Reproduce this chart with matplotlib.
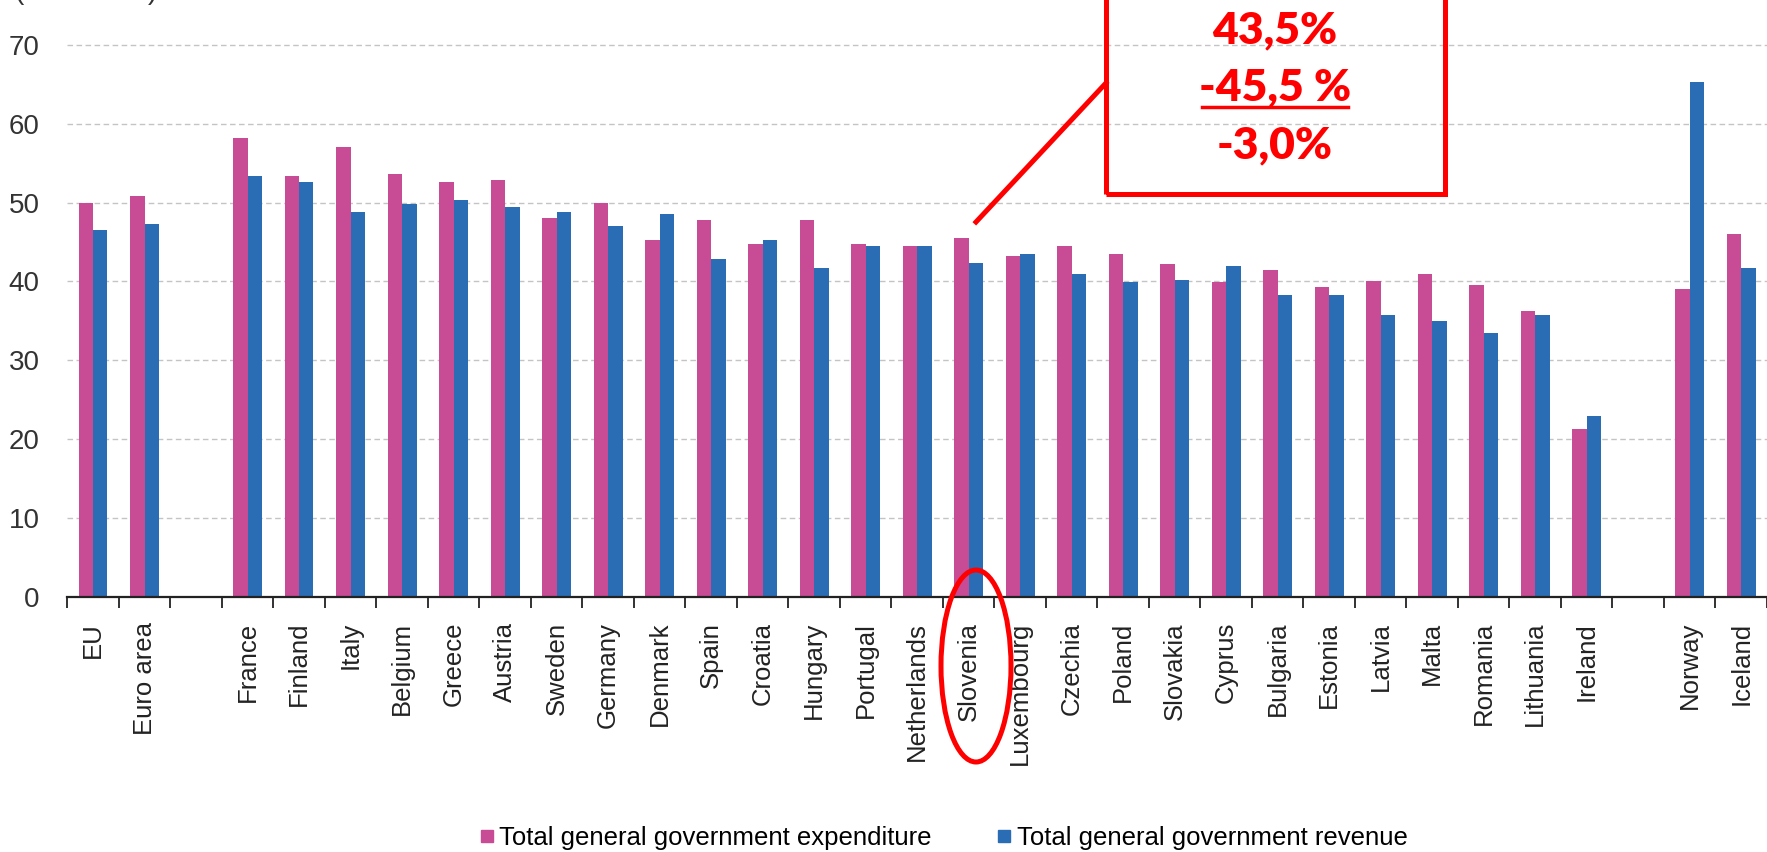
import numpy as np
import matplotlib
matplotlib.use('Agg')
import matplotlib.pyplot as plt
from matplotlib.lines import Line2D
from matplotlib.patches import Rectangle, Ellipse

W, H = 1767, 852

countries = ['EU', 'Euro area', '', 'France', 'Finland', 'Italy', 'Belgium', 'Greece',
             'Austria', 'Sweden', 'Germany', 'Denmark', 'Spain', 'Croatia', 'Hungary',
             'Portugal', 'Netherlands', 'Slovenia', 'Luxembourg', 'Czechia', 'Poland',
             'Slovakia', 'Cyprus', 'Bulgaria', 'Estonia', 'Latvia', 'Malta', 'Romania',
             'Lithuania', 'Ireland', '', 'Norway', 'Iceland']

expenditure = [49.9, 50.8, np.nan, 58.2, 53.4, 57.0, 53.6, 52.6, 52.8, 48.0, 49.9,
               45.3, 47.8, 44.7, 47.8, 44.7, 44.5, 45.5, 43.2, 44.5, 43.5, 42.2,
               39.9, 41.4, 39.3, 40.1, 40.9, 39.6, 36.3, 21.3, np.nan, 39.1, 46.0]

revenue = [46.5, 47.3, np.nan, 53.4, 52.6, 48.8, 49.8, 50.3, 49.5, 48.8, 47.0,
           48.5, 42.9, 45.2, 41.7, 44.5, 44.5, 42.4, 43.5, 40.9, 39.9, 40.2,
           41.9, 38.3, 38.3, 35.8, 35.0, 33.5, 35.8, 22.9, np.nan, 65.3, 41.7]

y_ticks = [0, 10, 20, 30, 40, 50, 60, 70]
series_labels = ['Total general government expenditure', 'Total general government revenue']
box_lines = ['43,5%', '-45,5 %', '-3,0%']
unit_label = '(% of GDP)'

PINK = '#C84B95'
BLUE = '#2A6DB5'
RED = '#FF0000'
NARROW = ['Liberation Sans Narrow', 'Liberation Sans', 'DejaVu Sans']


def fx(x):
    return x / W


def fy(y):
    return 1 - y / H


fig = plt.figure(figsize=(W / 100, H / 100), dpi=100)
ax = fig.add_axes([fx(67.3), fy(597), 1 - fx(67.3), (597 - 29) / H])

x = np.arange(len(countries))
bw = 0.28
ax.bar(x - bw / 2, expenditure, bw, color=PINK, label=series_labels[0], zorder=2)
ax.bar(x + bw / 2, revenue, bw, color=BLUE, label=series_labels[1], zorder=2)

ax.set_xlim(-0.5, 32.29)
ax.set_ylim(0, 72)

ax.set_yticks(y_ticks)
ax.set_yticklabels([str(t) for t in y_ticks], family=NARROW, fontsize=20, color='#333333')
ax.tick_params(axis='y', length=0, pad=20)
ax.yaxis.grid(True, color='#C4C4C4', linestyle=(0, (4, 2.5)), linewidth=1.0)
ax.set_axisbelow(True)

ax.set_xticks(np.arange(len(countries) + 1) - 0.5)
ax.set_xticklabels([])
ax.tick_params(axis='x', which='major', length=8, width=1.3, color='#222222', direction='out')
ax.set_xticks(x, minor=True)
ax.set_xticklabels(countries, minor=True, rotation=90, fontsize=18.5,
                   family='Liberation Sans', color='#222222', va='top')
ax.tick_params(axis='x', which='minor', length=0, pad=18)

for s in ['top', 'right', 'left']:
    ax.spines[s].set_visible(False)
ax.spines['bottom'].set_linewidth(1.6)
ax.spines['bottom'].set_color('#222222')

# unit label, cut off at the top edge as in the original
fig.text(fx(15), fy(5), unit_label, family=NARROW, fontsize=20, color='#333333',
         ha='left', va='bottom')

# legend
handles = [Line2D([], [], marker='s', linestyle='none', markersize=8, color=c)
           for c in (PINK, BLUE)]
fig.legend(handles, series_labels, loc='center', bbox_to_anchor=(fx(942), fy(838)),
           ncol=2, frameon=False, handletextpad=0.1, columnspacing=2.4,
           handlelength=0.8, prop={'family': 'Liberation Sans', 'size': 18.5})

# red annotation box
fig.patches.append(Rectangle((fx(1106), fy(194)), fx(1445 - 1106), (194 + 20) / H,
                             transform=fig.transFigure, fill=False, edgecolor=RED,
                             linewidth=3.6, zorder=5))
for txt, yy in zip(box_lines, [30, 87, 145]):
    fig.text(fx(1275), fy(yy), txt, family=['Lato', 'DejaVu Sans'], fontweight='heavy',
             fontsize=32, color=RED, ha='center', va='center', zorder=6)
fig.lines.append(Line2D([fx(1202), fx(1348)], [fy(107), fy(107)], transform=fig.transFigure,
                        color=RED, linewidth=2.5))
fig.lines.append(Line2D([fx(976), fx(1106)], [fy(222), fy(83)], transform=fig.transFigure,
                        color=RED, linewidth=3.6))
fig.patches.append(Ellipse((fx(976), fy(666)), fx(70), 192 / H, transform=fig.transFigure,
                           fill=False, edgecolor=RED, linewidth=3.6, zorder=5))

fig.savefig('out.png', dpi=100)
